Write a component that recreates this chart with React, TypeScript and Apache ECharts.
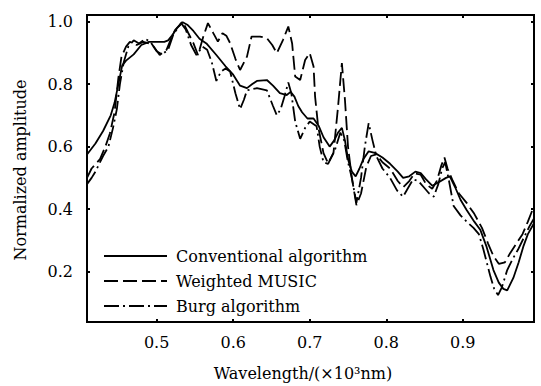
import React, { useEffect, useRef } from "react";
import * as echarts from "echarts";

// Wavelength (×10^3 nm) vs normalized amplitude
const conventional: [number, number][] = [
  [0.409, 0.575], [0.42, 0.61], [0.43, 0.65], [0.44, 0.7], [0.445, 0.74], [0.45, 0.8],
  [0.455, 0.86], [0.46, 0.875], [0.47, 0.895], [0.48, 0.925], [0.49, 0.935], [0.5, 0.935],
  [0.51, 0.935], [0.515, 0.94], [0.52, 0.955], [0.527, 0.98], [0.534, 0.998], [0.54, 0.99],
  [0.548, 0.97], [0.556, 0.945], [0.565, 0.93], [0.578, 0.893], [0.59, 0.857], [0.6, 0.83],
  [0.609, 0.795], [0.618, 0.787], [0.625, 0.8], [0.631, 0.81], [0.644, 0.813], [0.652, 0.795],
  [0.661, 0.771], [0.67, 0.765], [0.675, 0.775], [0.68, 0.76], [0.685, 0.73], [0.69, 0.71],
  [0.697, 0.69], [0.705, 0.69], [0.712, 0.665], [0.718, 0.63], [0.726, 0.6], [0.732, 0.62],
  [0.737, 0.645], [0.742, 0.66], [0.746, 0.62], [0.75, 0.56], [0.755, 0.52], [0.76, 0.505],
  [0.765, 0.53], [0.77, 0.56], [0.777, 0.585], [0.785, 0.58], [0.795, 0.565], [0.805, 0.545],
  [0.815, 0.52], [0.822, 0.5], [0.83, 0.505], [0.838, 0.52], [0.845, 0.515], [0.852, 0.495],
  [0.86, 0.475], [0.868, 0.485], [0.878, 0.5], [0.883, 0.505], [0.89, 0.47], [0.897, 0.43],
  [0.905, 0.397], [0.915, 0.36], [0.923, 0.333], [0.931, 0.28], [0.94, 0.205], [0.947, 0.165],
  [0.953, 0.145], [0.958, 0.14], [0.966, 0.18], [0.973, 0.23], [0.979, 0.28], [0.985, 0.32],
  [0.993, 0.355],
];

const weightedMusic: [number, number][] = [
  [0.409, 0.5], [0.415, 0.53], [0.426, 0.56], [0.433, 0.6], [0.439, 0.643], [0.445, 0.71],
  [0.45, 0.82], [0.454, 0.887], [0.46, 0.92], [0.465, 0.935], [0.474, 0.925], [0.4825, 0.935],
  [0.49, 0.93], [0.496, 0.92], [0.504, 0.893], [0.513, 0.91], [0.518, 0.94], [0.524, 0.973],
  [0.534, 1.0], [0.541, 0.965], [0.548, 0.931], [0.554, 0.893], [0.561, 0.952], [0.567, 0.995],
  [0.574, 0.963], [0.58, 0.936], [0.586, 0.963], [0.591, 0.955], [0.596, 0.931], [0.603, 0.88],
  [0.609, 0.845], [0.618, 0.888], [0.624, 0.952], [0.635, 0.952], [0.644, 0.947], [0.651, 0.925],
  [0.657, 0.899], [0.665, 0.941], [0.672, 0.984], [0.677, 0.93], [0.681, 0.824], [0.6875, 0.813],
  [0.694, 0.877], [0.7, 0.899], [0.705, 0.856], [0.707, 0.76], [0.711, 0.664], [0.718, 0.579],
  [0.724, 0.547], [0.731, 0.579], [0.737, 0.728], [0.742, 0.867], [0.746, 0.75], [0.75, 0.6],
  [0.755, 0.5], [0.761, 0.413], [0.767, 0.45], [0.774, 0.536], [0.78, 0.57], [0.787, 0.575],
  [0.795, 0.55], [0.805, 0.53], [0.815, 0.49], [0.822, 0.47], [0.83, 0.49], [0.837, 0.515],
  [0.845, 0.51], [0.852, 0.48], [0.86, 0.465], [0.866, 0.49], [0.872, 0.54], [0.876, 0.565],
  [0.88, 0.53], [0.887, 0.49], [0.895, 0.45], [0.905, 0.42], [0.915, 0.385], [0.925, 0.34],
  [0.933, 0.29], [0.94, 0.25], [0.947, 0.225], [0.955, 0.23], [0.962, 0.26], [0.97, 0.29],
  [0.978, 0.32], [0.985, 0.36], [0.993, 0.41],
];

const burg: [number, number][] = [
  [0.409, 0.48], [0.415, 0.5], [0.42, 0.52], [0.43, 0.57], [0.437, 0.6], [0.443, 0.66],
  [0.448, 0.72], [0.452, 0.8], [0.457, 0.87], [0.463, 0.92], [0.47, 0.94], [0.477, 0.93],
  [0.485, 0.945], [0.492, 0.935], [0.5, 0.905], [0.507, 0.895], [0.515, 0.91], [0.522, 0.96],
  [0.532, 0.995], [0.538, 0.975], [0.545, 0.925], [0.552, 0.893], [0.56, 0.92], [0.566, 0.91],
  [0.572, 0.87], [0.578, 0.81], [0.584, 0.84], [0.59, 0.85], [0.596, 0.84], [0.603, 0.77],
  [0.609, 0.72], [0.614, 0.75], [0.618, 0.78], [0.631, 0.787], [0.644, 0.78], [0.652, 0.73],
  [0.657, 0.7], [0.662, 0.72], [0.667, 0.76], [0.672, 0.805], [0.676, 0.77], [0.681, 0.68],
  [0.6875, 0.625], [0.694, 0.66], [0.7, 0.68], [0.709, 0.665], [0.713, 0.6], [0.718, 0.55],
  [0.724, 0.545], [0.733, 0.59], [0.74, 0.645], [0.745, 0.62], [0.75, 0.55], [0.755, 0.5],
  [0.761, 0.42], [0.767, 0.5], [0.772, 0.6], [0.777, 0.675], [0.782, 0.62], [0.787, 0.57],
  [0.795, 0.53], [0.805, 0.5], [0.814, 0.46], [0.822, 0.44], [0.829, 0.47], [0.835, 0.495],
  [0.842, 0.49], [0.849, 0.47], [0.856, 0.45], [0.862, 0.44], [0.868, 0.48], [0.873, 0.53],
  [0.877, 0.55], [0.882, 0.49], [0.888, 0.41], [0.897, 0.38], [0.905, 0.36], [0.914, 0.34],
  [0.921, 0.32], [0.927, 0.27], [0.936, 0.185], [0.941, 0.145], [0.946, 0.125], [0.951, 0.15],
  [0.958, 0.205], [0.965, 0.24], [0.972, 0.27], [0.98, 0.31], [0.987, 0.345], [0.993, 0.37],
];

const seriesNames = ["Conventional algorithm", "Weighted MUSIC", "Burg algorithm"];
const xTitle = "Wavelength/(×10³nm)";
const yTitle = "Normalized amplitude";
const xRange = [0.409, 0.993];
const yRange = [0.039, 1.021];

const FONT = "DejaVu Serif";
const FS = 16;

export default function App() {
  const ref = useRef<HTMLDivElement>(null);
  useEffect(() => {
    document.body.style.margin = "0";
    if (!ref.current) return;
    const chart = echarts.init(ref.current, undefined, { renderer: "svg" });
    const tick = { show: true, inside: true, length: 3, lineStyle: { color: "#000", width: 2 } };
    const fmt = (v: number) => v.toFixed(1);
    chart.setOption({
      animation: false,
      backgroundColor: "#fff",
      textStyle: { fontFamily: FONT },
      grid: {
        left: 87, top: 15, width: 447, height: 307,
        show: true, borderColor: "#000", borderWidth: 2, backgroundColor: "transparent",
      },
      xAxis: [
        {
          type: "value", min: xRange[0], max: xRange[1], splitNumber: 6,
          axisLine: { show: false }, axisTick: tick, splitLine: { show: false },
          axisLabel: {
            formatter: fmt, showMinLabel: false, showMaxLabel: false, margin: 12,
            color: "#000", fontSize: FS, fontFamily: FONT,
          },
        },
        {
          type: "value", position: "top", min: xRange[0], max: xRange[1], splitNumber: 6,
          axisLine: { show: false }, axisTick: tick, splitLine: { show: false },
          axisLabel: { show: false },
        },
      ],
      yAxis: [
        {
          type: "value", min: yRange[0], max: yRange[1], splitNumber: 5,
          axisLine: { show: false }, axisTick: tick, splitLine: { show: false },
          axisLabel: {
            formatter: fmt, showMinLabel: false, showMaxLabel: false, margin: 14,
            color: "#000", fontSize: FS, fontFamily: FONT,
          },
        },
        {
          type: "value", position: "right", min: yRange[0], max: yRange[1], splitNumber: 5,
          axisLine: { show: false }, axisTick: tick, splitLine: { show: false },
          axisLabel: { show: false },
        },
      ],
      legend: {
        orient: "vertical", left: 103, top: 248, itemWidth: 63, itemHeight: 20, itemGap: 9,
        padding: 0,
        data: seriesNames,
        itemStyle: { opacity: 0 },
        textStyle: { color: "#000", fontSize: FS, fontFamily: FONT, padding: [0, 0, 0, 4] },
      },
      series: [
        {
          name: seriesNames[0], type: "line", data: conventional, symbol: "none", clip: true,
          lineStyle: { color: "#000", width: 1.8, type: "solid" }, itemStyle: { color: "#000" },
        },
        {
          name: seriesNames[1], type: "line", data: weightedMusic, symbol: "none", clip: true,
          lineStyle: { color: "#000", width: 1.8, type: [14, 5] }, itemStyle: { color: "#000" },
        },
        {
          name: seriesNames[2], type: "line", data: burg, symbol: "none", clip: true,
          lineStyle: { color: "#000", width: 1.8, type: [15, 4, 2, 4] }, itemStyle: { color: "#000" },
        },
      ],
      graphic: [
        {
          type: "text", x: 303, y: 373,
          style: {
            text: xTitle, fill: "#000", fontSize: FS, fontFamily: FONT,
            align: "center", verticalAlign: "middle",
          },
        },
        {
          type: "text", x: 20, y: 170, rotation: Math.PI / 2,
          style: {
            text: yTitle, fill: "#000", fontSize: FS, fontFamily: FONT,
            align: "center", verticalAlign: "middle",
          },
        },
      ],
    });
    return () => chart.dispose();
  }, []);
  return <div ref={ref} style={{ width: 541, height: 386 }} />;
}
